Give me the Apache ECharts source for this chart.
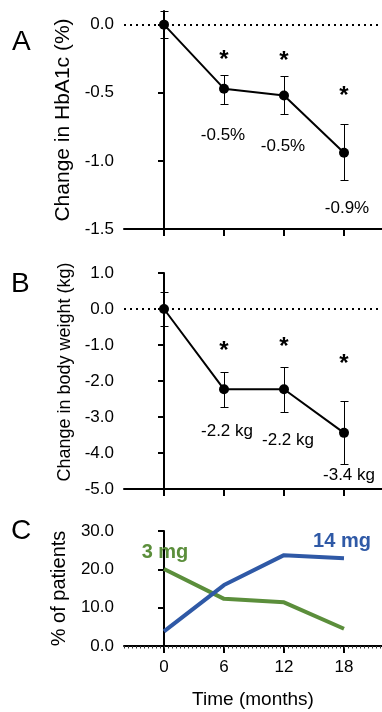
<!DOCTYPE html>
<html>
<head>
<meta charset="utf-8">
<script src="https://cdn.jsdelivr.net/npm/echarts@6/dist/echarts.min.js"></script>
<style>
  html, body { margin: 0; padding: 0; background: #fff; }
  #chart { width: 382px; height: 712px; }
</style>
</head>
<body>
<div id="chart"></div>
<script>
// months of follow-up
var months = [0, 6, 12, 18];

// panel A: change in HbA1c (%), mean with error bar ends
var hba1c = [0, -0.47, -0.52, -0.94];
var hba1cHi = [0.1, -0.37, -0.375, -0.73];
var hba1cLo = [-0.095, -0.58, -0.655, -1.14];
var hba1cTicks = [-1.5, -1.0, -0.5, 0.0];
var hba1cStarY = [-0.26, -0.27, -0.53];
var hba1cNotes = ['-0.5%', '-0.5%', '-0.9%'];
var hba1cNoteX = [5.9, 11.9, 18.3];
var hba1cNoteY = [-0.81, -0.895, -1.35];

// panel B: change in body weight (kg)
var weight = [0, -2.23, -2.23, -3.44];
var weightHi = [0.47, -1.75, -1.62, -2.55];
var weightLo = [-0.46, -2.73, -2.86, -4.31];
var weightTicks = [-5, -4, -3, -2, -1, 0, 1];
var weightStarY = [-1.17, -1.06, -1.53];
var weightNotes = ['-2.2 kg', '-2.2 kg', '-3.4 kg'];
var weightNoteX = [6.3, 12.4, 18.5];
var weightNoteY = [-3.39, -3.64, -4.62];

// panel C: % of patients on each dose
var pct3mg = [20.1, 12.3, 11.4, 4.5];
var pct14mg = [3.8, 15.9, 23.7, 22.9];
var pctTicks = [0, 10, 20, 30];
var doseNames = ['3 mg', '14 mg'];
var doseNoteX = [0.1, 17.8];
var doseNoteY = [24.5, 27.2];

var FONT = '"Liberation Sans", Arial, sans-serif';
var GREEN = '#5b8e3b';
var BLUE = '#2f59a6';

function pairs(xs, ys) {
  return xs.map(function (x, i) { return [x, ys[i]]; });
}

function errorBars(idx, hi, lo) {
  return {
    type: 'custom',
    xAxisIndex: idx,
    yAxisIndex: idx,
    z: 1,
    silent: true,
    data: months.map(function (m, i) { return [m, hi[i], lo[i]]; }),
    encode: { x: 0, y: [1, 2] },
    renderItem: function (params, api) {
      var x = api.value(0);
      var top = api.coord([x, api.value(1)]);
      var bot = api.coord([x, api.value(2)]);
      var cx = Math.round(top[0]) + 0.5;
      var y1 = Math.round(top[1]) + 0.5;
      var y2 = Math.round(bot[1]) + 0.5;
      var w = 4;
      var st = { stroke: '#000', lineWidth: 1 };
      return {
        type: 'group',
        children: [
          { type: 'line', shape: { x1: cx, y1: y1, x2: cx, y2: y2 }, style: st },
          { type: 'line', shape: { x1: cx - w, y1: y1, x2: cx + w, y2: y1 }, style: st },
          { type: 'line', shape: { x1: cx - w, y1: y2, x2: cx + w, y2: y2 }, style: st }
        ]
      };
    }
  };
}

function meanLine(idx, vals) {
  return {
    type: 'line',
    xAxisIndex: idx,
    yAxisIndex: idx,
    z: 3,
    data: pairs(months, vals),
    symbol: 'circle',
    symbolSize: 10,
    itemStyle: { color: '#000' },
    lineStyle: { color: '#000', width: 2 },
    markLine: {
      silent: true,
      symbol: 'none',
      label: { show: false },
      lineStyle: { color: '#000', type: [2, 4], width: 2 },
      data: [{ yAxis: 0 }]
    }
  };
}

function notes(idx, xs, ys, texts, style) {
  return {
    type: 'scatter',
    xAxisIndex: idx,
    yAxisIndex: idx,
    symbolSize: 0,
    silent: true,
    itemStyle: { opacity: 1 },
    data: xs.map(function (x, i) { return { value: [x, ys[i]], name: texts[i] }; }),
    label: Object.assign({
      show: true,
      position: 'inside',
      formatter: '{b}',
      color: '#000',
      fontFamily: FONT,
      fontSize: 17
    }, style || {})
  };
}

function yAxisOf(idx, min, max, ticks, name, nameSize, gap, pad) {
  return {
    gridIndex: idx,
    type: 'value',
    min: min,
    max: max,
    name: name,
    nameLocation: 'middle',
    nameGap: gap,
    nameTextStyle: { color: '#000', fontFamily: FONT, fontSize: nameSize, padding: pad || 0 },
    axisLine: { show: true, lineStyle: { color: '#000', width: 2 } },
    axisTick: { show: true, length: 6, customValues: ticks, lineStyle: { color: '#000', width: 2 } },
    axisLabel: {
      color: '#000', fontFamily: FONT, fontSize: 17, margin: 10,
      customValues: ticks,
      formatter: function (v) { return v.toFixed(1); }
    },
    splitLine: { show: false }
  };
}

function xAxisOf(idx, showLabels) {
  return {
    gridIndex: idx,
    type: 'value',
    min: -4,
    max: 21.8,
    name: showLabels ? 'Time (months)' : '',
    nameLocation: 'middle',
    nameGap: 44,
    nameTextStyle: { color: '#000', fontFamily: FONT, fontSize: 19 },
    axisLine: { show: true, onZero: false, lineStyle: { color: '#000', width: 2 } },
    axisTick: { show: true, length: 7, customValues: months, lineStyle: { color: '#000', width: 2 } },
    axisLabel: {
      show: showLabels, customValues: months,
      color: '#000', fontFamily: FONT, fontSize: 17, margin: 13
    },
    splitLine: { show: false }
  };
}

var chart = echarts.init(document.getElementById('chart'), null, { renderer: 'canvas' });

var option = {
  animation: false,
  backgroundColor: '#fff',
  grid: [
    { left: 124, right: 0, top: 11, bottom: 483 },
    { left: 124, right: 0, top: 273, bottom: 223 },
    { left: 124, right: 0, top: 531, bottom: 66 }
  ],
  xAxis: [
    xAxisOf(0, false),
    xAxisOf(1, false),
    xAxisOf(2, true),
    {
      // fine ticks just under the time axis of panel C
      gridIndex: 2, type: 'value', position: 'bottom', min: -4, max: 21.8, interval: 0.4,
      axisLine: { show: false, onZero: false },
      axisTick: { show: true, length: 2.5, lineStyle: { color: '#333', width: 1 } },
      axisLabel: { show: false },
      splitLine: { show: false }
    }
  ],
  yAxis: [
    yAxisOf(0, -1.5, 0.1, hba1cTicks, 'Change in HbA1c (%)', 21, 48),
    yAxisOf(1, -5, 1, weightTicks, 'Change in body weight (kg)', 18, 47, [0, 0, 0, 18]),
    yAxisOf(2, 0, 30, pctTicks, '% of patients', 20, 55)
  ],
  graphic: [
    { type: 'text', left: 12, top: 28, style: { text: 'A', fontFamily: FONT, fontSize: 28, fill: '#000' } },
    { type: 'text', left: 11, top: 270, style: { text: 'B', fontFamily: FONT, fontSize: 28, fill: '#000' } },
    { type: 'text', left: 11, top: 517, style: { text: 'C', fontFamily: FONT, fontSize: 28, fill: '#000' } }
  ],
  series: [
    errorBars(0, hba1cHi, hba1cLo),
    meanLine(0, hba1c),
    notes(0, months.slice(1), hba1cStarY, ['*', '*', '*'], { fontSize: 24, fontWeight: 'bold' }),
    notes(0, hba1cNoteX, hba1cNoteY, hba1cNotes),

    errorBars(1, weightHi, weightLo),
    meanLine(1, weight),
    notes(1, months.slice(1), weightStarY, ['*', '*', '*'], { fontSize: 24, fontWeight: 'bold' }),
    notes(1, weightNoteX, weightNoteY, weightNotes),

    {
      type: 'line', xAxisIndex: 2, yAxisIndex: 2, name: '3 mg',
      data: pairs(months, pct3mg), symbol: 'none',
      lineStyle: { color: GREEN, width: 4 }
    },
    {
      type: 'line', xAxisIndex: 2, yAxisIndex: 2, name: '14 mg',
      data: pairs(months, pct14mg), symbol: 'none',
      lineStyle: { color: BLUE, width: 4 }
    },
    notes(2, [doseNoteX[0]], [doseNoteY[0]], [doseNames[0]], { color: GREEN, fontSize: 20, fontWeight: 'bold' }),
    notes(2, [doseNoteX[1]], [doseNoteY[1]], [doseNames[1]], { color: BLUE, fontSize: 20, fontWeight: 'bold' })
  ]
};

chart.setOption(option);
</script>
</body>
</html>
